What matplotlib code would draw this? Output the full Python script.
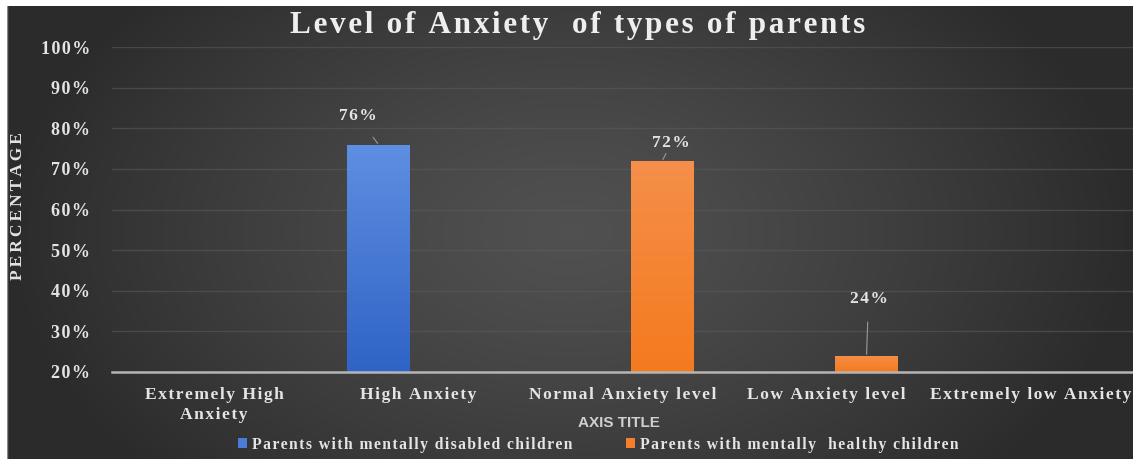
import numpy as np
import matplotlib
matplotlib.use('Agg')
import matplotlib.pyplot as plt

categories = ['Extremely High\nAnxiety', 'High Anxiety', 'Normal Anxiety level',
              'Low Anxiety level', 'Extremely low Anxiety']
disabled = [np.nan, 76, np.nan, np.nan, np.nan]
healthy = [np.nan, np.nan, 72, 24, np.nan]
series_names = ['Parents with mentally disabled children',
                'Parents with mentally  healthy children']
yticks = [20, 30, 40, 50, 60, 70, 80, 90, 100]


def spaced(s, n=1):
    # loose letter spacing using hair spaces
    gap = '\u200a' * n
    return '\n'.join(gap.join(line) for line in s.split('\n'))


W, H = 1133, 459
fig = plt.figure(figsize=(W / 100, H / 100), dpi=100)
fig.patch.set_facecolor('white')

# dark backdrop, lighter in the middle
bg = fig.add_axes([7 / W, 0, 1 - 7 / W, 1 - 6 / H])
gx, gy = np.meshgrid(np.linspace(-1, 1, 400), np.linspace(-1, 1, 200))
r = np.sqrt(gx ** 2 + (gy / 1.6) ** 2)
shade = 0.315 - 0.145 * np.clip(r, 0, 1) ** 1.3
bg.imshow(np.dstack([shade] * 3), aspect='auto', extent=[0, 1, 0, 1])
bg.axvline(0, color='#8a8a8a', lw=1)
bg.set_axis_off()

fam = ['Liberation Serif', 'DejaVu Serif']
txt = '#e4e4e4'

AX_L, AX_W = 112, 1021
ax = fig.add_axes([AX_L / W, 87 / H, AX_W / W, 325 / H])
ax.set_facecolor('none')
x = np.arange(len(categories))
bw, off = 0.307, 0.195
b1 = ax.bar(x - off, disabled, bw, color='#4a7bd6', zorder=3, label=spaced(series_names[0]))
b2 = ax.bar(x + off, healthy, bw, color='#f57f2b', zorder=3, label=spaced(series_names[1]))

ax.set_xlim(-0.5, len(categories) - 0.5)
ax.set_ylim(20, 100)

# vertical shading on each bar
grads = {'#4a7bd6': ['#5f8fe2', '#2f63c6'], '#f57f2b': ['#f58f4a', '#f47a1e']}
for bars, col in [(b1, '#4a7bd6'), (b2, '#f57f2b')]:
    top_c, bot_c = [np.array(matplotlib.colors.to_rgb(c)) for c in grads[col]]
    ramp = np.linspace(0, 1, 100)[:, None]
    img = (top_c * (1 - ramp) + bot_c * ramp)[:, None, :]
    for rect in bars:
        h = rect.get_height()
        if np.isnan(h):
            continue
        x0 = rect.get_x()
        im = ax.imshow(img, extent=[x0, x0 + rect.get_width(), 20, h],
                       aspect='auto', zorder=3.5, origin='upper')
        im.set_clip_path(rect)
ax.set_aspect('auto')

ax.set_yticks(yticks)
ax.set_yticklabels([spaced(f'{t}%') for t in yticks])
ax.set_xticks(x)
ax.set_xticklabels([spaced(c) for c in categories], linespacing=1.3)
for lab in ax.get_xticklabels() + ax.get_yticklabels():
    lab.set_fontfamily(fam)
    lab.set_fontweight('bold')
    lab.set_fontsize(13)
    lab.set_color(txt)
for lab in ax.get_xticklabels():
    lab.set_fontsize(12.6)
ax.tick_params(length=0)
ax.tick_params(axis='x', pad=11)
ax.tick_params(axis='y', pad=15.5)
ax.grid(axis='y', color='#5c5c5c', lw=1, alpha=0.55, zorder=0)
for s in ['top', 'right', 'left']:
    ax.spines[s].set_visible(False)
ax.spines['bottom'].set_color('#b5b5b5')
ax.spines['bottom'].set_linewidth(1.8)
ax.spines['bottom'].set_zorder(4)

# value labels with leader lines
label_offsets = {(0, 1): (-21, 28), (1, 2): (9, 18), (1, 3): (2, 57)}
for si, bars in enumerate([b1, b2]):
    for ci, rect in enumerate(bars):
        h = rect.get_height()
        if np.isnan(h):
            continue
        dx, dy = label_offsets[(si, ci)]
        cx = rect.get_x() + rect.get_width() / 2
        ax.annotate(spaced(f'{h:.0f}%'), xy=(cx, h), xytext=(dx, dy),
                    textcoords='offset pixels', ha='center', va='center',
                    fontfamily=fam, fontweight='bold', fontsize=12.5, color=txt,
                    arrowprops=dict(arrowstyle='-', color='#9a9a9a', lw=0.8,
                                    shrinkA=9, shrinkB=1))

ax.set_ylabel(spaced('PERCENTAGE', 2), fontfamily=fam, fontweight='bold',
              fontsize=12.5, color=txt)
ax.yaxis.set_label_coords(-(AX_L - 26) / AX_W, 0.51)
ax.set_xlabel('AXIS TITLE', fontfamily=['Liberation Sans Narrow', 'Liberation Sans'],
              fontweight='bold', fontsize=11, color='#d0d0d0')
ax.xaxis.set_label_coords((619 - AX_L) / AX_W, -44 / 325)

fig.text(578 / W, 1 - 26 / H, spaced('Level of Anxiety  of types of parents'),
         ha='center', va='center', fontfamily=fam, fontweight='bold',
         fontsize=22.5, color='#eeeeee')

leg = ax.legend(loc='center', bbox_to_anchor=((598 - AX_L) / AX_W, -73 / 325), ncol=2,
                frameon=False, handlelength=0.6, handleheight=0.6,
                handletextpad=0.3, columnspacing=3.4,
                prop=dict(family=fam, weight='bold', size=11.3))
for t in leg.get_texts():
    t.set_color(txt)

fig.savefig('out.png', dpi=100, facecolor=fig.get_facecolor())
